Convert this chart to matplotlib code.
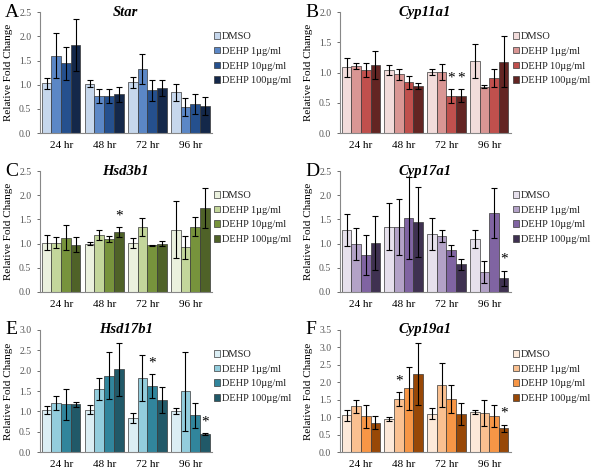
import numpy as np
import matplotlib.pyplot as plt

plt.rcParams['font.family'] = ['Liberation Serif', 'DejaVu Serif']

times = ['24 hr', '48 hr', '72 hr', '96 hr']
groups = ['DMSO', 'DEHP 1\u00b5g/ml', 'DEHP 10\u00b5g/ml', 'DEHP 100\u00b5g/ml']

# mean values per group (rows) at each time point (columns)
star_mean = [[1.03, 1.02, 1.05, 0.84],
             [1.60, 0.77, 1.33, 0.54],
             [1.44, 0.77, 0.88, 0.60],
             [1.82, 0.80, 0.93, 0.56]]
star_err = [[0.11, 0.07, 0.11, 0.18],
            [0.47, 0.14, 0.31, 0.18],
            [0.34, 0.14, 0.21, 0.20],
            [0.54, 0.15, 0.17, 0.18]]

cyp11_mean = [[1.09, 1.04, 1.01, 1.19],
              [1.11, 0.97, 1.01, 0.77],
              [1.04, 0.84, 0.61, 0.91],
              [1.13, 0.78, 0.62, 1.18]]
cyp11_err = [[0.16, 0.08, 0.05, 0.28],
             [0.05, 0.09, 0.14, 0.03],
             [0.12, 0.11, 0.12, 0.15],
             [0.23, 0.05, 0.11, 0.42]]

hsd3_mean = [[1.02, 1.00, 1.01, 1.29],
             [1.02, 1.18, 1.34, 0.92],
             [1.12, 1.10, 0.96, 1.35],
             [0.98, 1.24, 1.00, 1.74]]
hsd3_err = [[0.16, 0.03, 0.10, 0.59],
            [0.11, 0.10, 0.19, 0.23],
            [0.26, 0.06, 0.02, 0.19],
            [0.15, 0.10, 0.05, 0.42]]

cyp17_mean = [[1.28, 1.35, 1.19, 1.10],
              [0.99, 1.35, 1.16, 0.41],
              [0.76, 1.52, 0.86, 1.64],
              [1.01, 1.45, 0.57, 0.28]]
cyp17_err = [[0.33, 0.49, 0.33, 0.19],
             [0.34, 0.58, 0.12, 0.22],
             [0.42, 0.85, 0.12, 0.52],
             [0.55, 0.72, 0.12, 0.16]]

hsd17_mean = [[1.03, 1.04, 0.84, 1.01],
              [1.20, 1.55, 1.82, 1.50],
              [1.18, 1.88, 1.63, 0.90],
              [1.17, 2.04, 1.28, 0.45]]
hsd17_err = [[0.10, 0.11, 0.13, 0.07],
             [0.17, 0.28, 0.57, 0.97],
             [0.38, 0.58, 0.29, 0.31],
             [0.06, 0.65, 0.32, 0.02]]

cyp19_mean = [[1.06, 0.94, 1.10, 1.15],
              [1.31, 1.52, 1.93, 1.12],
              [1.03, 1.83, 1.52, 1.04],
              [0.84, 2.25, 1.10, 0.69]]
cyp19_err = [[0.16, 0.06, 0.15, 0.05],
             [0.19, 0.20, 0.63, 0.38],
             [0.33, 0.61, 0.40, 0.31],
             [0.19, 0.89, 0.31, 0.10]]

# significance marks: (group index, time index)
star_sig = []
cyp11_sig = [(2, 2), (3, 2)]
hsd3_sig = [(3, 1)]
cyp17_sig = [(3, 3)]
hsd17_sig = [(2, 2), (3, 3)]
cyp19_sig = [(1, 1), (3, 3)]

blues = ['#c6d7ec', '#5b87c6', '#25508e', '#14284a']
reds = ['#f2dcdb', '#d99694', '#c0504d', '#632523']
greens = ['#ebf1de', '#c3d69b', '#77933c', '#4f6228']
purples = ['#e6e0ec', '#b3a2c7', '#8064a2', '#3f3151']
teals = ['#dbeef4', '#93cddd', '#31859c', '#215968']
oranges = ['#fde9d9', '#fac090', '#f79646', '#984807']

panels = [
    ('A', 'Star', star_mean, star_err, star_sig, blues, 2.5, [0.066, 0.717, 0.287, 0.257]),
    ('B', 'Cyp11a1', cyp11_mean, cyp11_err, cyp11_sig, reds, 2.0, [0.566, 0.717, 0.285, 0.257]),
    ('C', 'Hsd3b1', hsd3_mean, hsd3_err, hsd3_sig, greens, 2.5, [0.066, 0.379, 0.287, 0.257]),
    ('D', 'Cyp17a1', cyp17_mean, cyp17_err, cyp17_sig, purples, 2.5, [0.566, 0.379, 0.285, 0.257]),
    ('E', 'Hsd17b1', hsd17_mean, hsd17_err, hsd17_sig, teals, 3.0, [0.066, 0.038, 0.287, 0.26]),
    ('F', 'Cyp19a1', cyp19_mean, cyp19_err, cyp19_sig, oranges, 3.5, [0.566, 0.038, 0.285, 0.26]),
]

fig = plt.figure(figsize=(6, 4.7), dpi=100)
x = np.arange(len(times))
w = 0.225

for letter, gene, mean, err, sig, cols, ymax, pos in panels:
    ax = fig.add_axes(pos)
    for i in range(4):
        ax.bar(x + (i - 1.5) * w, mean[i], w, yerr=err[i], color=cols[i],
               edgecolor='#3a3a3a', linewidth=0.5, label=groups[i],
               error_kw=dict(ecolor='black', elinewidth=0.8, capsize=2, capthick=0.8))
    for gi, ti in sig:
        ax.annotate('*', (x[ti] + (gi - 1.5) * w, mean[gi][ti] + err[gi][ti]),
                    xytext=(0, 8), textcoords='offset points', ha='center',
                    va='center', fontsize=11)
    ax.set_xlim(-0.5, 3.5)
    ax.set_ylim(0, ymax)
    ax.set_yticks(np.arange(0, ymax + 0.01, 0.5))
    ax.set_yticklabels(['%.1f' % v for v in np.arange(0, ymax + 0.01, 0.5)])
    ax.set_xticks(x)
    ax.set_xticklabels(times)
    ax.tick_params(axis='x', length=0, labelsize=8, pad=6)
    ax.tick_params(axis='y', length=2.5, labelsize=7, colors='#555555', width=0.6)
    for lab in ax.get_xticklabels():
        lab.set_color('black')
    ax.spines['top'].set_visible(False)
    ax.spines['right'].set_visible(False)
    ax.spines['left'].set_color('#888888')
    ax.spines['bottom'].set_color('#888888')
    ax.set_ylabel('Relative Fold Change', fontsize=8, labelpad=4)
    ax.text(0.5, 1.0, gene, transform=ax.transAxes, fontsize=10.5, style='italic',
            fontweight='bold', ha='center', va='center')
    ax.text(-0.2, 1.0, letter, transform=ax.transAxes, fontsize=14, va='center', ha='left')
    ax.legend(loc='upper left', bbox_to_anchor=(0.99, 0.87), frameon=False,
              fontsize=7.5, handlelength=0.55, handleheight=0.6, handletextpad=0.2,
              labelspacing=0.55, borderaxespad=0, labelcolor='#222222')

plt.savefig('out.png')
